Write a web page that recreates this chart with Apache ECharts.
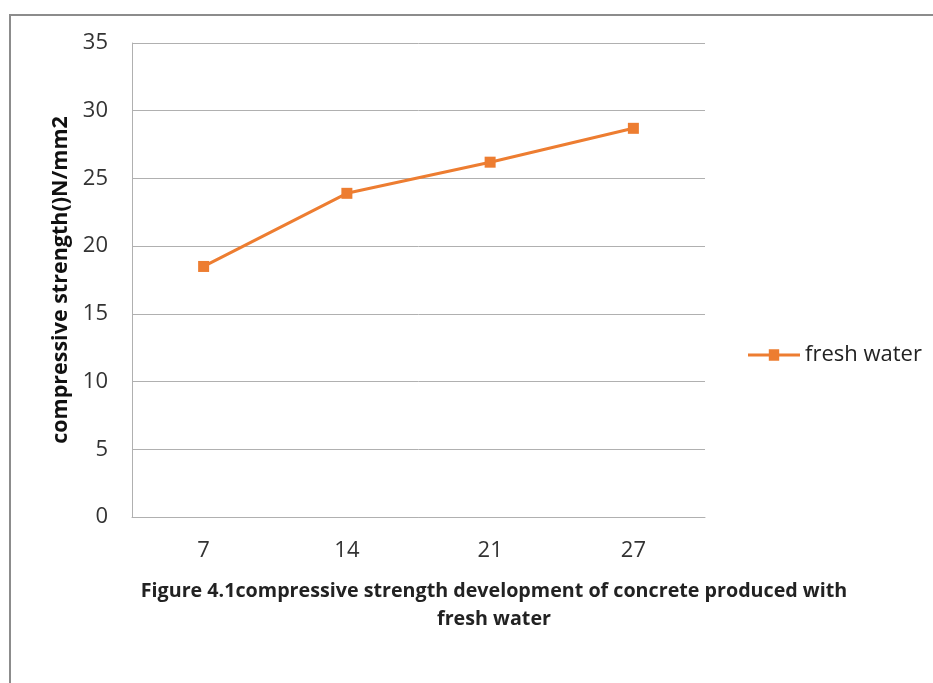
<!DOCTYPE html>
<html><head><meta charset="utf-8">
<script src="https://cdn.jsdelivr.net/npm/echarts@6/dist/echarts.min.js"></script>
<style>html,body{margin:0;padding:0;background:#fff}#c{width:933px;height:683px}</style>
</head><body><div id="c"></div>
<script>
const categories = ['7', '14', '21', '27'];
const freshWater = [18.5, 23.9, 26.2, 28.7];
const seriesName = 'fresh water';
const yTicks = {min: 0, max: 35, interval: 5};

const chart = echarts.init(document.getElementById('c'), null, {renderer: 'canvas'});
const font = '"Open Sans", sans-serif';
chart.setOption({
  animation: false,
  backgroundColor: '#fff',
  graphic: [
    {type: 'polyline', shape: {points: [[10, 683], [10, 15], [933, 15]]}, style: {stroke: '#8c8c8c', lineWidth: 2, fill: null}}
  ],
  title: {
    text: 'Figure 4.1compressive strength development of concrete produced with\nfresh water',
    left: 489, top: 572, textAlign: 'center',
    textStyle: {fontFamily: font, fontWeight: 'bold', fontSize: 19.7, color: '#222', lineHeight: 28}
  },
  legend: {
    data: [{name: seriesName, icon: 'path://M0,4 L20,4 L20,0 L30,0 L30,4 L50,4 L50,7 L30,7 L30,11 L20,11 L20,7 L0,7 Z'}],
    left: 743, top: 339, itemWidth: 52, itemHeight: 12, itemGap: 5,
    textStyle: {fontFamily: font, fontSize: 22, color: '#222'}
  },
  grid: {left: 132, right: 228, top: 43, bottom: 166},
  xAxis: {
    type: 'category', data: categories, boundaryGap: true,
    axisLine: {lineStyle: {color: '#b0b0b0', width: 1}},
    axisTick: {show: false},
    axisLabel: {margin: 23, fontFamily: font, fontSize: 22, color: '#333'}
  },
  yAxis: {
    type: 'value', min: yTicks.min, max: yTicks.max, interval: yTicks.interval,
    name: 'compressive strength()N/mm2', nameLocation: 'middle', nameGap: 60,
    nameTextStyle: {fontFamily: font, fontWeight: 'bold', fontSize: 21.5, color: '#111'},
    axisLine: {show: true, lineStyle: {color: '#b0b0b0', width: 1}},
    axisTick: {show: false},
    splitLine: {lineStyle: {color: '#b0b0b0', width: 1}},
    axisLabel: {margin: 24, fontFamily: font, fontSize: 22, color: '#333'}
  },
  series: [{
    name: seriesName, type: 'line', data: freshWater,
    symbol: 'rect', symbolSize: 11,
    lineStyle: {color: '#ED7D31', width: 3},
    itemStyle: {color: '#ED7D31'}
  }]
});
</script></body></html>
